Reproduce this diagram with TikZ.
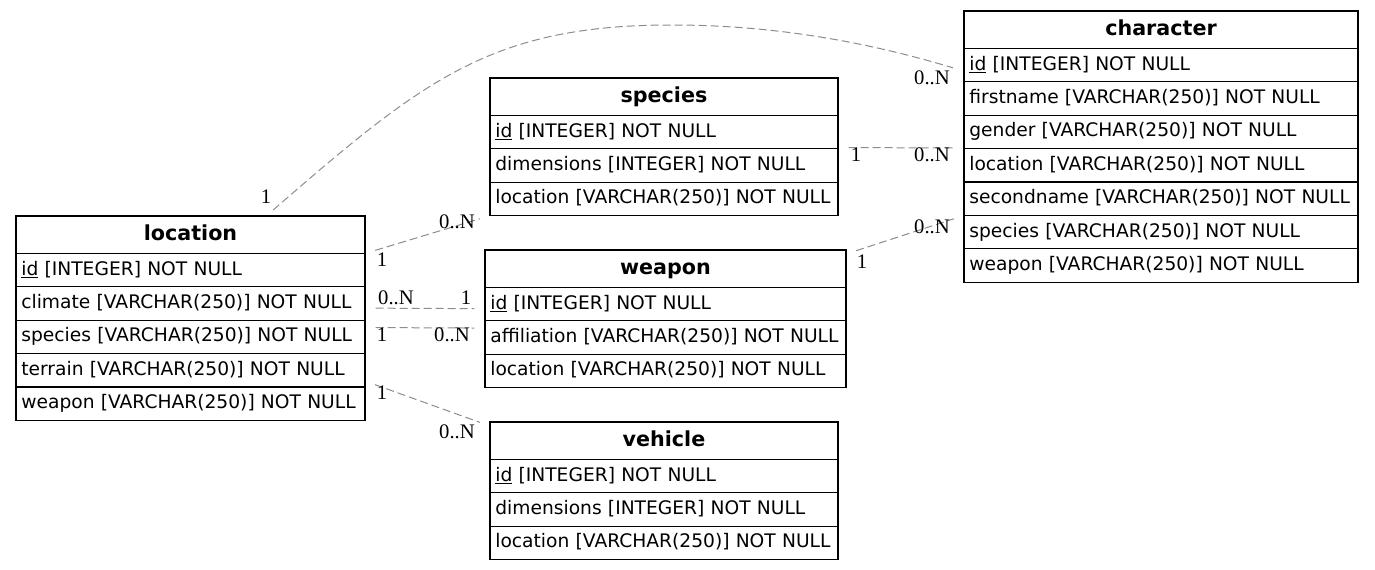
\documentclass[tikz,border=0pt]{standalone}
\usepackage{fontspec}
\setmainfont{DejaVu Sans}
\newfontfamily\cardfont{Liberation Serif}
\usepackage{tikz}
\usetikzlibrary{positioning}
\definecolor{er_line}{RGB}{0, 0, 0}
\definecolor{er_edge}{RGB}{140, 140, 140}

\begin{document}
\begin{tikzpicture}[x=0.75pt, y=-0.75pt,
    tabhead/.style={draw=er_line, line width=0.9pt, outer sep=0pt,
                    minimum height=28.1pt, text width=#1, inner xsep=4pt,
                    align=center, text height=11.5pt, text depth=3pt,
                    font=\fontsize{15.5pt}{18pt}\selectfont\bfseries},
    tabrow/.style={draw=er_line, line width=0.9pt, outer sep=0pt,
                   minimum height=25.05pt, text width=#1, inner xsep=4pt,
                   align=left, text height=10.5pt, text depth=3pt,
                   font=\fontsize{14pt}{17pt}\selectfont},
    erlink/.style={draw=er_edge, line width=0.75pt, dash pattern=on 6pt off 3pt,
                   shorten <=8pt, shorten >=8pt},
    card/.style={font=\cardfont\fontsize{15.5pt}{18pt}\selectfont, inner sep=0pt}]
    \useasboundingbox (0,0) rectangle (1375,569);

    % location
    \node[tabhead=253.75pt, anchor=north west] (loc) at (16,216) {location};
    \node[tabrow=253.75pt, below=0pt of loc] (loc-id) {\underline{id} [INTEGER] NOT NULL};
    \node[tabrow=253.75pt, below=0pt of loc-id] (loc-clim) {climate [VARCHAR(250)] NOT NULL};
    \node[tabrow=253.75pt, below=0pt of loc-clim] (loc-spc) {species [VARCHAR(250)] NOT NULL};
    \node[tabrow=253.75pt, below=0pt of loc-spc] (loc-ter) {terrain [VARCHAR(250)] NOT NULL};
    \node[tabrow=253.75pt, below=0pt of loc-ter] (loc-wpn) {weapon [VARCHAR(250)] NOT NULL};

    % species
    \node[tabhead=253pt, anchor=north west] (spc) at (490,78) {species};
    \node[tabrow=253pt, below=0pt of spc] (spc-id) {\underline{id} [INTEGER] NOT NULL};
    \node[tabrow=253pt, below=0pt of spc-id] (spc-dim) {dimensions [INTEGER] NOT NULL};
    \node[tabrow=253pt, below=0pt of spc-dim] (spc-loc) {location [VARCHAR(250)] NOT NULL};

    % weapon
    \node[tabhead=262.75pt, anchor=north west] (wpn) at (485,250) {weapon};
    \node[tabrow=262.75pt, below=0pt of wpn] (wpn-id) {\underline{id} [INTEGER] NOT NULL};
    \node[tabrow=262.75pt, below=0pt of wpn-id] (wpn-aff) {affiliation [VARCHAR(250)] NOT NULL};
    \node[tabrow=262.75pt, below=0pt of wpn-aff] (wpn-loc) {location [VARCHAR(250)] NOT NULL};

    % vehicle
    \node[tabhead=253pt, anchor=north west] (vhc) at (490,422) {vehicle};
    \node[tabrow=253pt, below=0pt of vhc] (vhc-id) {\underline{id} [INTEGER] NOT NULL};
    \node[tabrow=253pt, below=0pt of vhc-id] (vhc-dim) {dimensions [INTEGER] NOT NULL};
    \node[tabrow=253pt, below=0pt of vhc-dim] (vhc-loc) {location [VARCHAR(250)] NOT NULL};

    % character
    \node[tabhead=287.5pt, anchor=north west] (chr) at (964,11) {character};
    \node[tabrow=287.5pt, below=0pt of chr] (chr-id) {\underline{id} [INTEGER] NOT NULL};
    \node[tabrow=287.5pt, below=0pt of chr-id] (chr-first) {firstname [VARCHAR(250)] NOT NULL};
    \node[tabrow=287.5pt, below=0pt of chr-first] (chr-gen) {gender [VARCHAR(250)] NOT NULL};
    \node[tabrow=287.5pt, below=0pt of chr-gen] (chr-loc) {location [VARCHAR(250)] NOT NULL};
    \node[tabrow=287.5pt, below=0pt of chr-loc] (chr-second) {secondname [VARCHAR(250)] NOT NULL};
    \node[tabrow=287.5pt, below=0pt of chr-second] (chr-spc) {species [VARCHAR(250)] NOT NULL};
    \node[tabrow=287.5pt, below=0pt of chr-spc] (chr-wpn) {weapon [VARCHAR(250)] NOT NULL};

    % links
    \coordinate (arcTop) at (672,25);
    \draw[erlink, shorten <=0pt, shorten >=0pt]
        ([xshift=62pt, yshift=4.5pt]loc.north)
        .. controls (424,79) and (492,25) .. (arcTop)
        .. controls (742,25) and (838,33) .. ([xshift=-8.25pt, yshift=-2pt]chr-id.west);
    \draw[erlink] (loc.south east) -- (spc-loc.south west);
    \draw[erlink] ([yshift=-3.4pt]loc-clim.east) -- ([yshift=-3.4pt]wpn-id.west);
    \draw[erlink] ([yshift=7.1pt]loc-spc.east) -- ([yshift=7.1pt]wpn-aff.west);
    \draw[erlink] ([yshift=4.5pt]loc-ter.south east) -- ([yshift=-3pt]vhc.north west);
    \draw[erlink] ([yshift=1pt]spc-id.south east) -- ([yshift=0.5pt]chr-gen.south west);
    \draw[erlink] ([yshift=-3pt]wpn.north east) -- (chr-spc.north west);

    % cardinalities
    \node[card] (c1a) at (266,197) {1};
    \node[card] (c1b) at (932,78) {0..N};
    \node[card] (c2a) at (382,260) {1};
    \node[card] (c2b) at (457,222) {0..N};
    \node[card] (c3a) at (396,298) {0..N};
    \node[card] (c3b) at (466,298) {1};
    \node[card] (c4a) at (382,335) {1};
    \node[card] (c4b) at (452,335) {0..N};
    \node[card] (c5a) at (382,393) {1};
    \node[card] (c5b) at (457,432) {0..N};
    \node[card] (c6a) at (856,155) {1};
    \node[card] (c6b) at (932,155) {0..N};
    \node[card] (c7a) at (862,262) {1};
    \node[card] (c7b) at (932,227) {0..N};
\end{tikzpicture}
\end{document}
